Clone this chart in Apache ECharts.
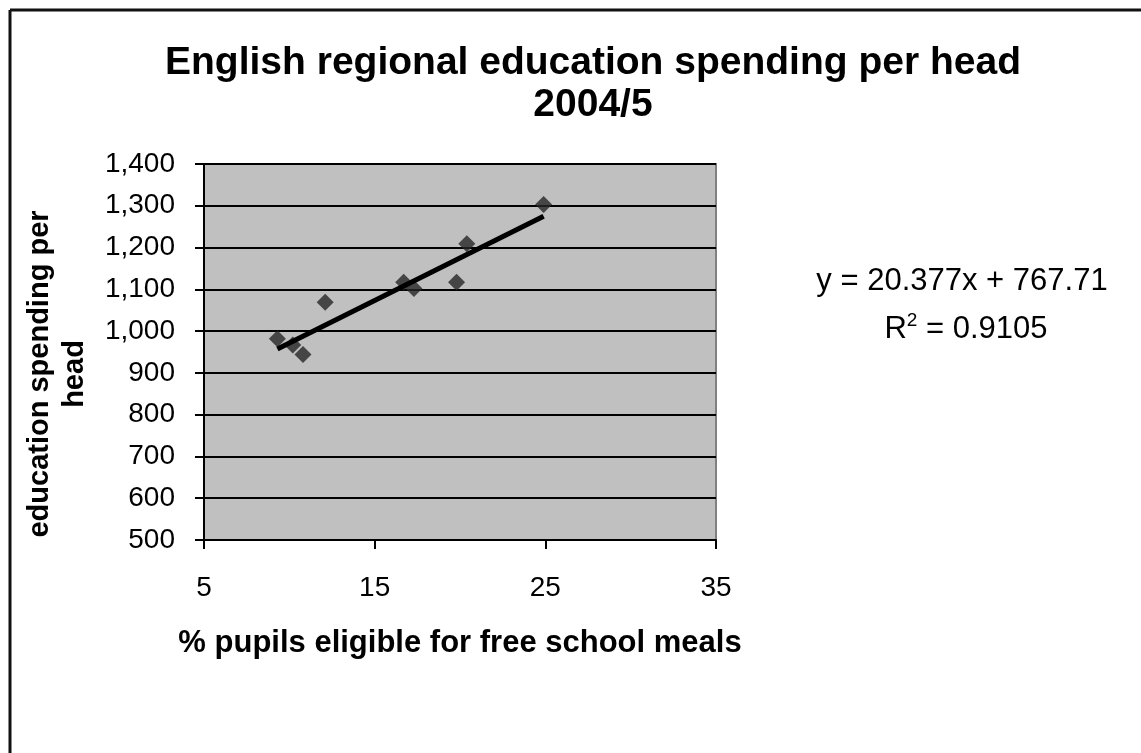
<!DOCTYPE html>
<html>
<head>
<meta charset="utf-8">
<script src="https://cdn.jsdelivr.net/npm/echarts@6/dist/echarts.min.js"></script>
<style>
  html, body { margin: 0; padding: 0; background: #fff; }
  #chart { width: 1141px; height: 753px; }
</style>
</head>
<body>
<div id="chart"></div>
<script>
// % pupils eligible for free school meals (x) and spending per head (y)
const fsmPct = [9.3, 10.2, 10.8, 12.1, 16.7, 17.3, 19.8, 20.4, 24.9]
const spending = [982, 967, 944, 1069, 1117, 1102, 1117, 1209, 1303]
// linear trendline endpoints, as drawn
const trendX = [9.3, 24.9]
const trendY = [957, 1275]
const yTicks = [500, 600, 700, 800, 900, 1000, 1100, 1200, 1300, 1400]
const xTicks = [5, 15, 25, 35]

const font = 'Liberation Sans, Arial, sans-serif'

const chart = echarts.init(document.getElementById('chart'))

const options = {
  backgroundColor: '#fff',
  animation: false,
  title: {
    text: 'English regional education spending per head\n2004/5',
    left: 588,
    top: 37,
    textAlign: 'center',
    textStyle: {
      fontFamily: font,
      fontSize: 39,
      fontWeight: 'bold',
      color: '#000',
      lineHeight: 42
    }
  },
  grid: {
    left: 204,
    top: 164,
    width: 512,
    height: 376,
    outerBoundsMode: 'none',
    containLabel: false,
    show: true,
    backgroundColor: '#c0c0c0',
    borderColor: '#808080',
    borderWidth: 2
  },
  xAxis: {
    type: 'value',
    min: xTicks[0],
    max: xTicks[xTicks.length - 1],
    interval: 10,
    name: '% pupils eligible for free school meals',
    nameLocation: 'middle',
    nameGap: 88,
    nameTextStyle: { fontFamily: font, fontSize: 31, fontWeight: 'bold', color: '#000' },
    axisLine: { show: true, lineStyle: { color: '#000', width: 2 } },
    axisTick: { show: true, length: 9, lineStyle: { color: '#000', width: 2 } },
    axisLabel: { fontFamily: font, fontSize: 28, color: '#000', margin: 34 },
    splitLine: { show: false }
  },
  yAxis: {
    type: 'value',
    min: yTicks[0],
    max: yTicks[yTicks.length - 1],
    interval: 100,
    name: 'education spending per\nhead',
    nameLocation: 'middle',
    nameRotate: 90,
    nameGap: 112,
    nameTextStyle: {
      fontFamily: font,
      fontSize: 29,
      fontWeight: 'bold',
      color: '#000',
      lineHeight: 35,
      padding: [0, 44, 0, 0]
    },
    axisLine: { show: true, lineStyle: { color: '#000', width: 2 } },
    axisTick: { show: true, length: 9, lineStyle: { color: '#000', width: 2 } },
    axisLabel: {
      fontFamily: font,
      fontSize: 28,
      color: '#000',
      margin: 29,
      formatter: (v) => v.toLocaleString('en-US')
    },
    splitLine: { show: true, lineStyle: { color: '#000', width: 2 } }
  },
  series: [
    {
      type: 'scatter',
      symbol: 'diamond',
      symbolSize: 17,
      itemStyle: { color: '#262626' },
      data: fsmPct.map((x, i) => [x, spending[i]]),
      z: 3
    },
    {
      type: 'line',
      symbol: 'none',
      lineStyle: { color: '#000', width: 5 },
      data: trendX.map((x, i) => [x, trendY[i]]),
      z: 4
    }
  ],
  graphic: [
    {
      type: 'text',
      x: 962,
      y: 281,
      style: {
        text: 'y = 20.377x + 767.71',
        fontFamily: font,
        fontSize: 31,
        fill: '#000',
        align: 'center',
        verticalAlign: 'middle'
      }
    },
    {
      type: 'text',
      x: 966,
      y: 328,
      style: {
        text: '{r|R}{s|2}{r| = 0.9105}',
        fontFamily: font,
        fill: '#000',
        align: 'center',
        verticalAlign: 'middle',
        rich: {
          r: { fontFamily: font, fontSize: 31, color: '#000', verticalAlign: 'bottom' },
          s: { fontFamily: font, fontSize: 19, color: '#000', padding: [0, 0, 14, 0], verticalAlign: 'bottom' }
        }
      }
    },
    // frame of the chart area (only top and left edges are visible)
    {
      type: 'line',
      shape: { x1: 10, y1: 10, x2: 1141, y2: 10 },
      style: { stroke: '#111', lineWidth: 3 }
    },
    {
      type: 'line',
      shape: { x1: 10, y1: 10, x2: 10, y2: 753 },
      style: { stroke: '#111', lineWidth: 3 }
    }
  ]
}

chart.setOption(options)
</script>
</body>
</html>
